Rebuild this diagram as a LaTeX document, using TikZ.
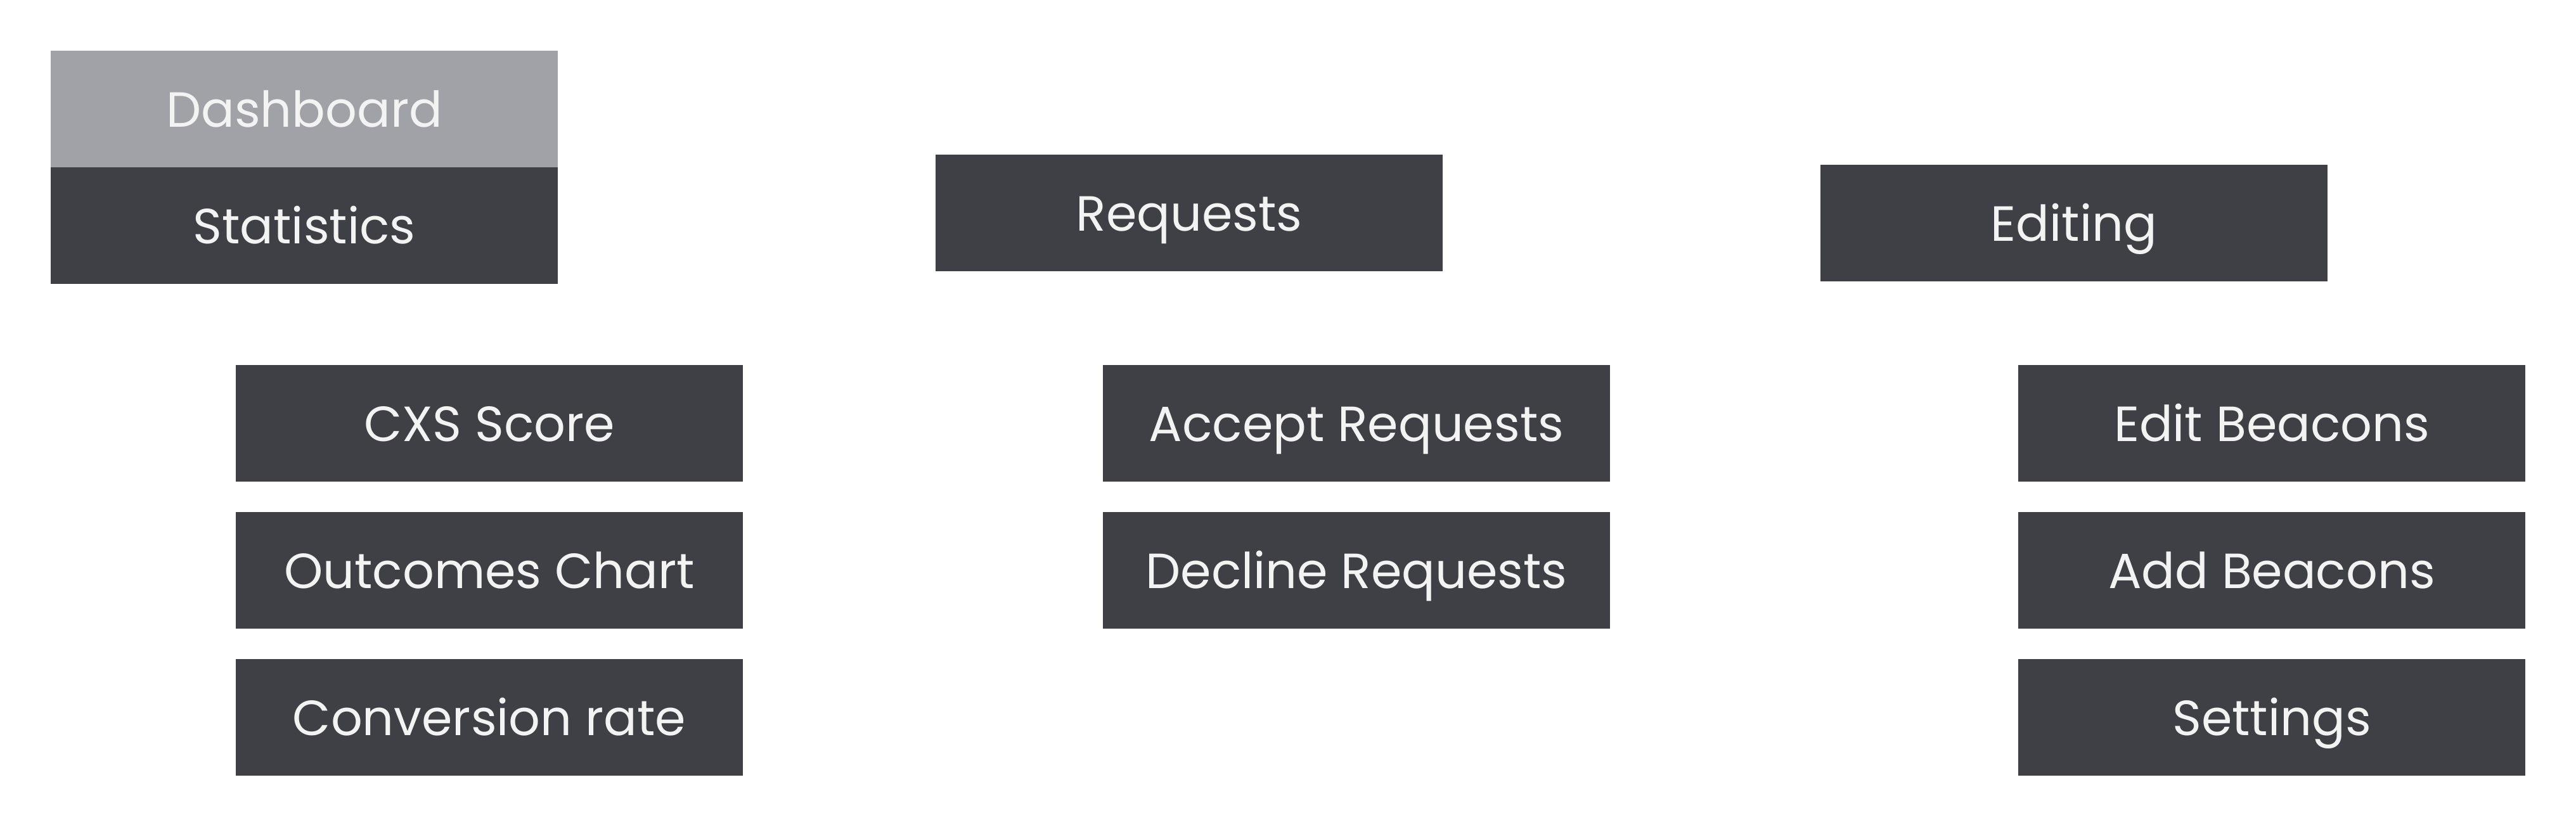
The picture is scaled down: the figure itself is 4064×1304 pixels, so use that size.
\documentclass[tikz,border=0pt]{standalone}
\usepackage{fontspec}
\setmainfont[Ligatures=NoCommon]{Poppins}
\usetikzlibrary{backgrounds}
\definecolor{boxdark}{HTML}{3F4045}
\definecolor{boxgray}{HTML}{A1A2A8}
\definecolor{txtcol}{HTML}{F3F3F3}
\definecolor{conncol}{HTML}{F3F3F4}
\begin{document}
\begin{tikzpicture}[x=1pt,y=-1pt,
  menubox/.style={fill=boxdark, text=txtcol, minimum width=800pt, minimum height=184pt,
    inner sep=0pt, font=\fontsize{78}{94}\selectfont, text height=56pt, text depth=0pt},
  graybox/.style={menubox, fill=boxgray},
  conn/.style={draw=conncol, line width=4pt}]
\useasboundingbox (0,0) rectangle (4064,1304);
\fill[white] (0,0) rectangle (4064,1304);
% top level
\node[graybox] (dash) at (480,172) {Dashboard};
\node[menubox] (stat) at (480,356) {Statistics};
\node[menubox] (req) at (1876,336) {Requests};
\node[menubox] (edit) at (3272,352) {Editing};
% statistics children
\node[menubox] (cxs) at (772,668) {CXS Score};
\node[menubox] (outc) at (772,900) {Outcomes Chart};
\node[menubox] (conv) at (772,1132) {Conversion rate};
% requests children
\node[menubox] (acc) at (2140,668) {Accept Requests};
\node[menubox] (dec) at (2140,900) {Decline Requests};
% editing children
\node[menubox] (eb) at (3584,668) {Edit Beacons};
\node[menubox] (ab) at (3584,900) {Add Beacons};
\node[menubox] (sett) at (3584,1132) {Settings};
\begin{scope}[on background layer]
\draw[conn] (stat.east |- edit.west) -- (edit.west);
\draw[conn] (stat.south) -- (stat.south |- cxs.north);
\draw[conn] (req.south) -- (req.south |- acc.north);
\draw[conn] (edit.south) -- (edit.south |- eb.north);
\end{scope}
\end{tikzpicture}
\end{document}
